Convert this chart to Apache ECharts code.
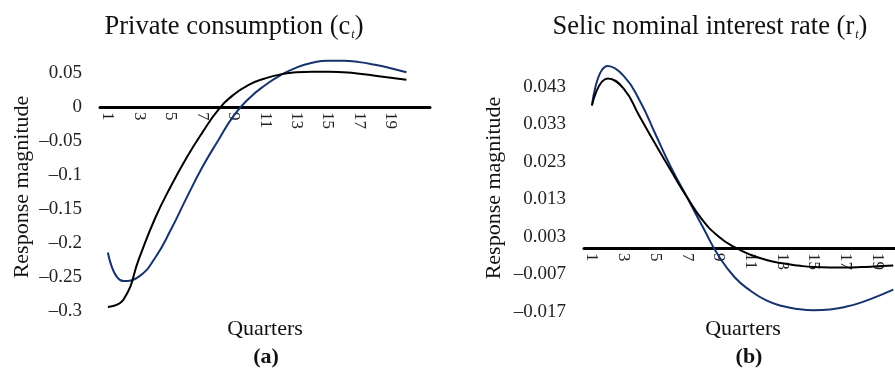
<!DOCTYPE html>
<html>
<head>
<meta charset="utf-8">
<title>Impulse responses</title>
<script src="https://cdn.jsdelivr.net/npm/echarts@6/dist/echarts.min.js"></script>
<style>
  html, body { margin: 0; padding: 0; background: #fff; }
  #chart { width: 895px; height: 368px; }
</style>
</head>
<body>
<div id="chart"></div>
<script>
// Horizon (quarters after the shock)
const quarters = ['1','2','3','4','5','6','7','8','9','10','11','12','13','14','15','16','17','18','19','20'];

// Panel (a): private consumption response
const consumptionBlack = [-0.294, -0.283, -0.222, -0.164, -0.117, -0.075, -0.038, -0.005, 0.018, 0.033,
                          0.042, 0.048, 0.051, 0.052, 0.052, 0.051, 0.049, 0.046, 0.043, 0.040];
const consumptionBlue  = [-0.214, -0.256, -0.249, -0.222, -0.181, -0.134, -0.089, -0.050, -0.013, 0.013,
                          0.032, 0.047, 0.058, 0.065, 0.068, 0.068, 0.066, 0.062, 0.057, 0.051];

// Panel (b): Selic nominal interest rate response
const selicBlack = [0.038, 0.0452, 0.0425, 0.0351, 0.0277, 0.0205, 0.0135, 0.0073, 0.0030, 0.0002,
                    -0.0018, -0.0032, -0.0041, -0.0047, -0.0051, -0.0052, -0.0052, -0.0051, -0.0049, -0.0047];
const selicBlue  = [0.038, 0.0485, 0.0459, 0.0394, 0.0304, 0.0214, 0.0135, 0.0055, -0.0022, -0.0078,
                    -0.0114, -0.0140, -0.0155, -0.0163, -0.0166, -0.0164, -0.0157, -0.0145, -0.0129, -0.0111];

// Y-axis tick settings
const consumptionTicks = { min: -0.3, max: 0.1, interval: 0.05 };
const selicTicks = { min: -0.017, max: 0.053, interval: 0.01 };

const FONT = 'Liberation Serif';
const BLUE = '#16336e';

// Grid boxes for the two panels (the right panel runs past the page edge)
const grids = [
  { left: 100, top: 39, width: 330, height: 272, outerBoundsMode: 'none', containLabel: false },
  { left: 584, top: 49.2, width: 333, height: 262.5, outerBoundsMode: 'none', containLabel: false }
];

// Axis bands: one spare band after the last quarter
const bands = quarters.concat(['']);

function fmtNum(v, digits) {
  const s = String(parseFloat(v.toFixed(digits)));
  return s.replace('-', '\u2013');
}

// The category axis sits on the zero line: shift it up from the grid bottom
function zeroOffset(grid, ticks) {
  return -grid.height * (0 - ticks.min) / (ticks.max - ticks.min);
}

function xAxisFor(gridIndex, ticks) {
  return {
    type: 'category',
    gridIndex: gridIndex,
    data: bands,
    boundaryGap: true,
    position: 'bottom',
    offset: zeroOffset(grids[gridIndex], ticks),
    axisLine: { onZero: false, lineStyle: { color: '#000', width: 3 } },
    axisTick: { show: false },
    axisLabel: {
      interval: 1, rotate: -90, margin: 5,
      fontFamily: FONT, fontSize: 17, color: '#222'
    },
    splitLine: { show: false }
  };
}

function yAxisFor(gridIndex, ticks, digits) {
  return {
    type: 'value',
    gridIndex: gridIndex,
    min: ticks.min, max: ticks.max, interval: ticks.interval,
    axisLine: { show: false },
    axisTick: { show: false },
    splitLine: { show: false },
    axisLabel: {
      showMaxLabel: false, margin: 18,
      fontFamily: FONT, fontSize: 19, color: '#222',
      formatter: v => fmtNum(v, digits)
    }
  };
}

function line(name, data, color, axis) {
  return {
    name: name, type: 'line', data: data,
    xAxisIndex: axis, yAxisIndex: axis,
    smooth: 0.5, symbol: 'none',
    lineStyle: { color: color, width: 2 },
    z: color === '#000' ? 3 : 2
  };
}

const textStyle = { fontFamily: FONT, fill: '#111' };
const titleRich = {
  a: { fontFamily: FONT, fontSize: 26.5, fontWeight: 'normal', color: '#111' },
  s: { fontFamily: FONT, fontSize: 12, fontWeight: 'normal', fontStyle: 'italic', color: '#111', padding: [14, 0, 0, 1] }
};

const option = {
  animation: false,
  title: [
    {
      text: '{a|Private consumption (c}{s|t}{a|)}',
      left: 229, top: 9, textAlign: 'center',
      textStyle: { fontWeight: 'normal', rich: titleRich }
    },
    {
      text: '{a|Selic nominal interest rate (r}{s|t}{a|)}',
      left: 705, top: 9, textAlign: 'center',
      textStyle: { fontWeight: 'normal', rich: titleRich }
    }
  ],
  grid: grids,
  xAxis: [xAxisFor(0, consumptionTicks), xAxisFor(1, selicTicks)],
  yAxis: [yAxisFor(0, consumptionTicks, 3), yAxisFor(1, selicTicks, 3)],
  series: [
    line('Consumption (alt.)', consumptionBlue, BLUE, 0),
    line('Consumption', consumptionBlack, '#000', 0),
    line('Selic (alt.)', selicBlue, BLUE, 1),
    line('Selic', selicBlack, '#000', 1)
  ],
  graphic: [
    { type: 'text', x: 22, y: 187, rotation: Math.PI / 2,
      style: Object.assign({ text: 'Response magnitude', fontSize: 22, align: 'center', verticalAlign: 'middle' }, textStyle) },
    { type: 'text', x: 494, y: 188, rotation: Math.PI / 2,
      style: Object.assign({ text: 'Response magnitude', fontSize: 22, align: 'center', verticalAlign: 'middle' }, textStyle) },
    { type: 'text', x: 265, y: 329,
      style: Object.assign({ text: 'Quarters', fontSize: 22, align: 'center', verticalAlign: 'middle' }, textStyle) },
    { type: 'text', x: 743, y: 329,
      style: Object.assign({ text: 'Quarters', fontSize: 22, align: 'center', verticalAlign: 'middle' }, textStyle) },
    { type: 'text', x: 266, y: 357,
      style: Object.assign({ text: '(a)', fontSize: 22, fontWeight: 'bold', align: 'center', verticalAlign: 'middle' }, textStyle) },
    { type: 'text', x: 749, y: 357,
      style: Object.assign({ text: '(b)', fontSize: 22, fontWeight: 'bold', align: 'center', verticalAlign: 'middle' }, textStyle) }
  ]
};

const chart = echarts.init(document.getElementById('chart'), null, { renderer: 'canvas' });
chart.setOption(option);
</script>
</body>
</html>
